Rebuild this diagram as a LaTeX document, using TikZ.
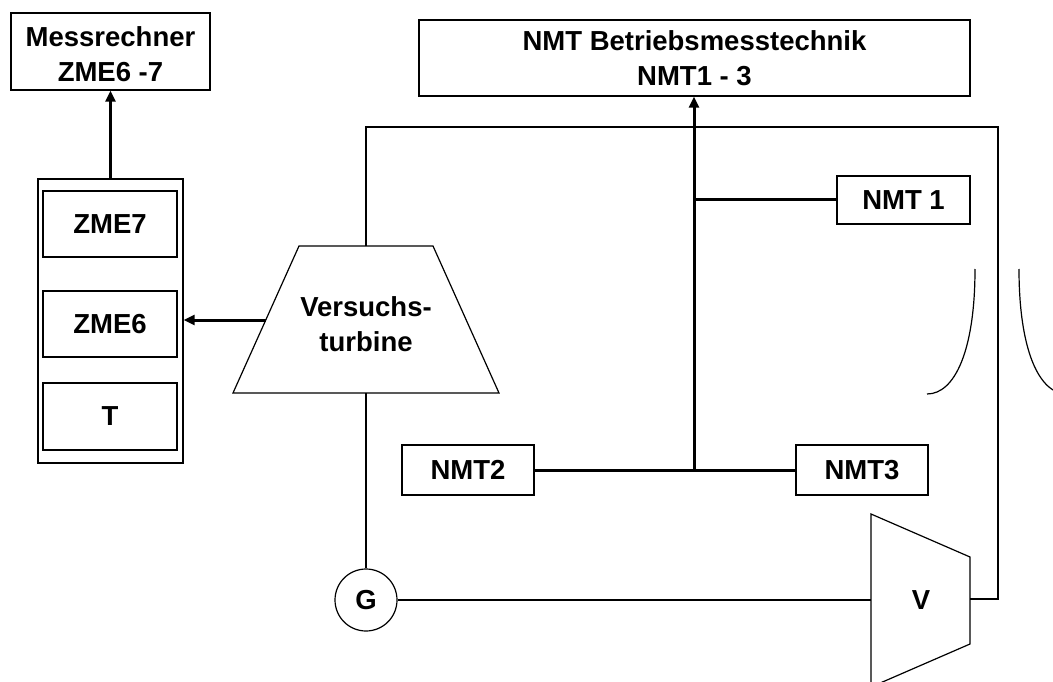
\documentclass[tikz,border=0pt]{standalone}
\usepackage{fontspec}
\setmainfont{Liberation Sans}
\usetikzlibrary{arrows.meta}
\tikzset{
  lbl/.style={font=\fontsize{27.5}{35}\selectfont\bfseries, align=center},
  boxn/.style={draw, line width=1.4pt, inner sep=0pt, lbl},
  sig/.style={line width=3pt, -{Triangle[length=11pt,width=10pt]}},
  bus/.style={line width=3pt},
  mech/.style={line width=1.2pt},
  outline/.style={line width=1.2pt, line join=miter},
}
\begin{document}
\begin{tikzpicture}[x=1pt,y=-1pt]
\path[use as bounding box, clip] (0,0) rectangle (1053,682);
\fill[white] (0,0) rectangle (1053,682);

% top boxes
\node[boxn, minimum width=199pt, minimum height=77pt] (mr) at (110.5,51.5) {};
\node[lbl, inner sep=0pt] (mrt) at (110.5,54) {Messrechner\\ZME6 -7};
\node[boxn, minimum width=551pt, minimum height=76pt] (nmt) at (694.5,58) {NMT Betriebsmesstechnik\\NMT1 - 3};

% ZME container
\node[draw, line width=1.4pt, minimum width=145pt, minimum height=284pt, inner sep=0pt] (cont) at (110.5,321) {};
\node[boxn, minimum width=134pt, minimum height=66pt] (zme7) at (110,224) {ZME7};
\node[boxn, minimum width=134pt, minimum height=66pt] (zme6) at (110,324) {ZME6};
\node[boxn, minimum width=134pt, minimum height=67pt] (t) at (110,416.5) {T};
\draw[sig] (cont.north) -- (mr.south);

% turbine
\coordinate (ttl) at (299,246);
\coordinate (ttr) at (433,246);
\coordinate (tbr) at (499,393);
\coordinate (tbl) at (233,393);
\draw[outline] (ttl) -- (ttr) -- (tbr) -- (tbl) -- cycle;
\node[lbl, inner sep=0pt] (turb) at (366,324) {Versuchs-\\turbine};
\coordinate (tw) at (265.8,320);
\draw[sig] (tw) -- (tw -| cont.east);

% generator
\node[circle, draw, line width=1.2pt, minimum size=62pt, inner sep=0pt, lbl] (g) at (366,600) {G};
\coordinate (ttop) at (366,246);
\coordinate (tbot) at (366,393);
\coordinate (c1) at (366,127);
\coordinate (c2) at (998,127);
\coordinate (c3) at (998,599);

% compressor V
\coordinate (vtl) at (871,514);
\coordinate (vtr) at (970,557);
\coordinate (vbr) at (970,644);
\coordinate (vbl) at (871,687);
\draw[outline] (vtl) -- (vtr) -- (vbr) -- (vbl) -- cycle;
\node[lbl, inner sep=0pt] (v) at (921,600) {V};
\coordinate (vl) at (871,599);
\coordinate (vr) at (970,599);

\draw[mech] (ttop) -- (c1) -- (c2) -- (c3) -- (vr);
\draw[mech] (tbot) -- (g.north);
\draw[mech] (g.east) -- (g.east -| vl);

% NMT sensors
\node[boxn, minimum width=133pt, minimum height=48pt] (n1) at (903.5,200) {NMT 1};
\node[boxn, minimum width=132pt, minimum height=50pt] (n2) at (468,470) {NMT2};
\node[boxn, minimum width=132pt, minimum height=50pt] (n3) at (862,470) {NMT3};
\coordinate (j1) at (694,200);
\coordinate (j2) at (694,470);
\draw[bus] (n2.east) -- (n3.west);
\draw[bus] (j1) -- (n1.west);
\draw[sig] (j2) -- (j2 |- nmt.south);

% arcs
\draw[mech] (975,269) .. controls (975,350) and (955,394) .. (927,394);
\draw[mech] (1019,269) .. controls (1019,350) and (1039,394) .. (1067,394);
\end{tikzpicture}
\end{document}
